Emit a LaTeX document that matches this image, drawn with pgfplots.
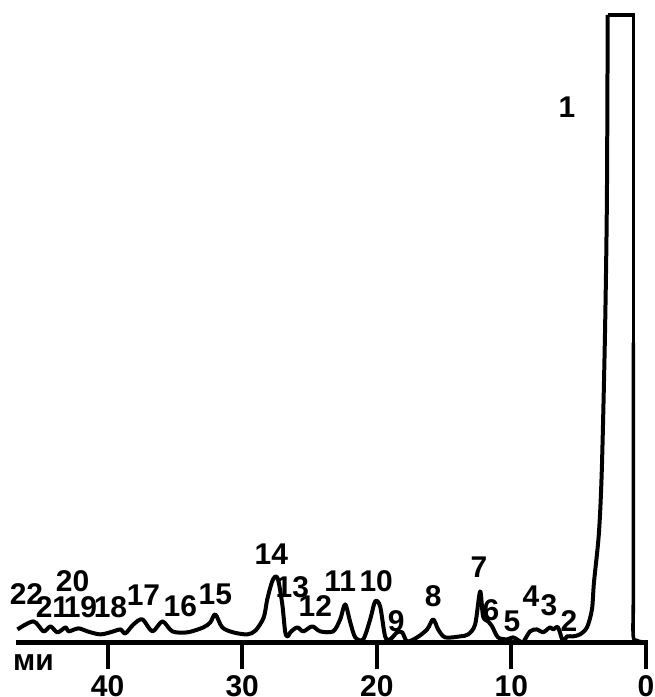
\documentclass[border=0pt]{standalone}
\usepackage{fontspec}
\setmainfont{Liberation Sans}
\usepackage{pgfplots}
\pgfplotsset{compat=1.18}
\begin{document}
\begin{tikzpicture}
\begin{axis}[
  x=6.735pt, y=0.5pt,
  x dir=reverse,
  xmin=-0.15, xmax=46.8,
  ymin=0, ymax=643,
  axis x line*=bottom,
  axis y line=none,
  x axis line style={line width=2.3pt, black},
  xtick={0,10,20,30,40},
  tick align=outside,
  major tick length=13.5pt,
  tick style={line width=2.1pt, black},
  xticklabel style={font=\bfseries\fontsize{15}{18}\selectfont, inner sep=0pt, anchor=north, yshift=-3pt},
  /pgf/number format/assume math mode=true,
  clip=false,
]
\addplot[black, line width=2pt, smooth, tension=0.5, line join=round] coordinates {
(46.70,13) (45.51,21) (44.77,11) (44.25,16) (43.73,10) (43.13,15) (42.91,11)
(42.17,14) (41.50,11) (40.53,8) (39.57,11) (39.05,13) (38.68,9) (38.08,18)
(37.42,23) (36.67,11) (35.93,21) (35.19,11) (34.08,10) (32.89,15) (32.37,20)
(32.00,28) (31.48,15) (30.66,10) (29.62,8) (29.00,12) (28.40,25) (28.14,43)
(27.80,60) (27.54,66) (27.32,62) (27.02,38) (26.80,10) (26.60,6) (26.43,10)
(25.91,15) (25.46,11) (24.80,16) (24.20,11) (23.24,11) (22.72,23) (22.35,38)
(21.97,20) (21.60,5) (21.01,3) (20.49,23) (20.12,41) (19.75,36) (19.38,6)
(19.01,3) (18.49,10) (18.11,10) (17.74,1) (17.00,5) (16.26,13) (15.81,23)
(15.44,13) (14.92,5) (13.81,6) (13.21,8) (12.69,18) (12.32,51) (12.10,26)
(11.73,21) (11.43,16) (10.99,5) (10.32,3) (9.87,5) (9.35,1) (9.13,0)
(8.61,11) (8.09,13) (7.65,10) (7.13,15) (6.90,13) (6.53,15) (6.16,1)
(5.86,6) (5.42,6) (4.90,8) (4.38,15) (4.01,33) (3.86,60) (3.49,110)
(3.27,176) (3.04,310) (2.90,443) (2.84,628)
};
\addplot[black, line width=1.7pt, sharp plot, line join=miter] coordinates {
(2.84,628) (0.93,628) (0.93,300)
};
\addplot[black, line width=1.8pt, smooth, tension=0.5] coordinates {
(0.93,300) (0.93,60) (0.95,8) (0.70,2) (0.30,0.5) (0,0)
};
\path (axis cs:48.0,643) (axis cs:-0.67,-54);
\begin{scope}[every node/.style={font=\bfseries\fontsize{15}{18}\selectfont, inner sep=0pt}]
\node at (axis cs:5.86,536) {1};
\node at (axis cs:5.72,21) {2};
\node at (axis cs:7.20,37) {3};
\node at (axis cs:8.54,46) {4};
\node at (axis cs:9.95,21) {5};
\node at (axis cs:11.51,32) {6};
\node at (axis cs:12.40,75) {7};
\node at (axis cs:15.81,46) {8};
\node at (axis cs:18.56,21) {9};
\node at (axis cs:20.04,61) {10};
\node at (axis cs:22.72,61) {11};
\node at (axis cs:24.57,36) {12};
\node at (axis cs:26.28,55) {13};
\node at (axis cs:27.84,88) {14};
\node at (axis cs:32.00,48) {15};
\node at (axis cs:34.60,36) {16};
\node at (axis cs:37.34,47) {17};
\node at (axis cs:39.79,35) {18};
\node at (axis cs:42.02,35) {19};
\node at (axis cs:42.61,61) {20};
\node at (axis cs:44.10,35) {21};
\node at (axis cs:46.03,48) {22};
\node at (axis cs:45.51,-20) {ми};
\end{scope}
\end{axis}
\end{tikzpicture}
\end{document}
